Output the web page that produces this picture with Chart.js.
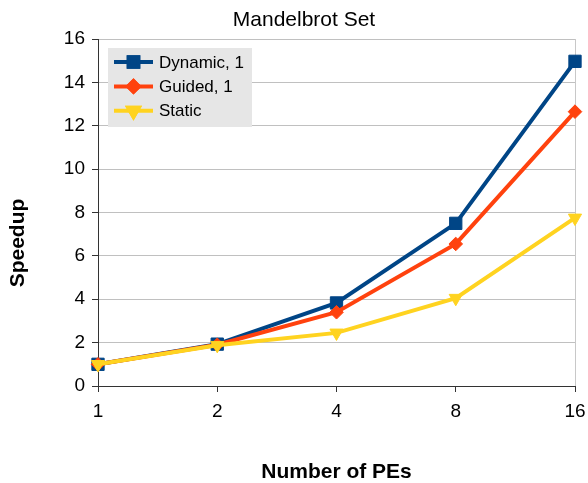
<!DOCTYPE html>
<html>
<head>
<meta charset="utf-8">
<script src="https://cdn.jsdelivr.net/npm/chart.js"></script>
<style>
html,body{margin:0;padding:0;background:#fff;}
#wrap{width:588px;height:483px;}
</style>
</head>
<body>
<div id="wrap"><canvas id="c" width="588" height="483"></canvas></div>
<script>
const categories = ['1', '2', '4', '8', '16'];
const dynamicValues = [1.0, 1.93, 3.83, 7.5, 14.97];
const guidedValues = [1.0, 1.9, 3.4, 6.55, 12.65];
const staticValues = [1.0, 1.88, 2.45, 4.05, 7.75];
const seriesNames = ['Dynamic, 1', 'Guided, 1', 'Static'];
const yTicks = [0, 2, 4, 6, 8, 10, 12, 14, 16];
const chartTitle = 'Mandelbrot Set';
const xTitle = 'Number of PEs';
const yTitle = 'Speedup';

const FONT = '"Liberation Sans", Arial, sans-serif';
const colors = ['#004586', '#ff420e', '#ffd320'];

const textPlugin = {
  id: 'titles',
  afterDraw(chart) {
    const ctx = chart.ctx;
    ctx.save();
    ctx.fillStyle = '#000';
    ctx.textAlign = 'center';
    ctx.textBaseline = 'middle';
    ctx.font = '21px ' + FONT;
    ctx.fillText(chartTitle, 304, 20);
    ctx.translate(18, 243);
    ctx.rotate(-Math.PI / 2);
    ctx.font = 'bold 21px ' + FONT;
    ctx.fillText(yTitle, 0, 0);
    ctx.restore();
  }
};

const legendPlugin = {
  id: 'boxLegend',
  afterDraw(chart) {
    const ctx = chart.ctx;
    const ca = chart.chartArea;
    const x0 = ca.left + 10, y0 = ca.top + 9, w = 144, h = 79;
    ctx.save();
    ctx.fillStyle = '#e6e6e6';
    ctx.fillRect(x0, y0, w, h);
    ctx.font = '17px ' + FONT;
    ctx.textBaseline = 'middle';
    ctx.textAlign = 'left';
    chart.data.datasets.forEach((ds, i) => {
      const cy = y0 + 14 + i * 24.4;
      ctx.strokeStyle = ds.borderColor;
      ctx.lineWidth = 4;
      ctx.beginPath();
      ctx.moveTo(x0 + 6, cy);
      ctx.lineTo(x0 + 45, cy);
      ctx.stroke();
      Chart.helpers.drawPoint(ctx, {
        pointStyle: ds.pointStyle,
        radius: ds.pointRadius * 0.78,
        rotation: ds.pointRotation || 0,
        borderWidth: 1
      }, x0 + 25.5, cy);
      ctx.fillStyle = ds.borderColor;
      ctx.strokeStyle = ds.borderColor;
      ctx.fill();
      ctx.stroke();
      ctx.fillStyle = '#000';
      ctx.fillText(ds.label, x0 + 51, cy + 1);
    });
    ctx.restore();
  }
};

function mk(label, data, color, style, radius, rot, order) {
  return {
    label, data,
    borderColor: color, backgroundColor: color,
    pointBackgroundColor: color, pointBorderColor: color,
    borderWidth: 4, pointStyle: style, pointRadius: radius,
    pointHoverRadius: radius, pointBorderWidth: 1,
    pointRotation: rot, tension: 0, clip: false, order
  };
}

new Chart(document.getElementById('c'), {
  type: 'line',
  data: {
    labels: categories,
    datasets: [
      mk(seriesNames[0], dynamicValues, colors[0], 'rect', 8.7, 0, 2),
      mk(seriesNames[1], guidedValues, colors[1], 'rectRot', 6.8, 0, 1),
      mk(seriesNames[2], staticValues, colors[2], 'triangle', 7.6, 180, 0)
    ]
  },
  options: {
    responsive: false,
    animation: false,
    devicePixelRatio: 1,
    layout: { padding: { top: 39, right: 13, left: 0, bottom: 0 } },
    plugins: {
      legend: { display: false },
      tooltip: { enabled: false },
      title: { display: false }
    },
    scales: {
      x: {
        type: 'category',
        offset: false,
        afterFit(s) { s.height = 97; s.paddingLeft = 0; s.paddingRight = 0; },
        border: { display: true, color: '#333', width: 1 },
        grid: {
          display: true,
          drawOnChartArea: true,
          color: (c) => c.index === categories.length - 1 ? '#c8c8c8' : 'rgba(0,0,0,0)',
          tickColor: '#333',
          tickLength: 6,
          lineWidth: 1
        },
        ticks: {
          color: '#000',
          font: { family: FONT, size: 19 },
          padding: 8,
          maxRotation: 0
        },
        title: {
          display: true,
          text: xTitle,
          color: '#000',
          font: { family: FONT, size: 21, weight: 'bold', lineHeight: 1.0 },
          padding: { top: 0, bottom: 0 }
        }
      },
      y: {
        min: 0, max: 16,
        afterFit(s) { s.width = 98; s.paddingTop = 0; s.paddingBottom = 0; },
        afterBuildTicks(s) { s.ticks = yTicks.map(v => ({ value: v })); },
        border: { display: true, color: '#333', width: 1 },
        grid: {
          color: '#c0c0c0',
          tickColor: '#333',
          tickLength: 6,
          lineWidth: 1
        },
        ticks: {
          color: '#000',
          font: { family: FONT, size: 19 },
          padding: 7
        },
        title: { display: false }
      }
    }
  },
  plugins: [textPlugin, legendPlugin]
});
</script>
</body>
</html>
